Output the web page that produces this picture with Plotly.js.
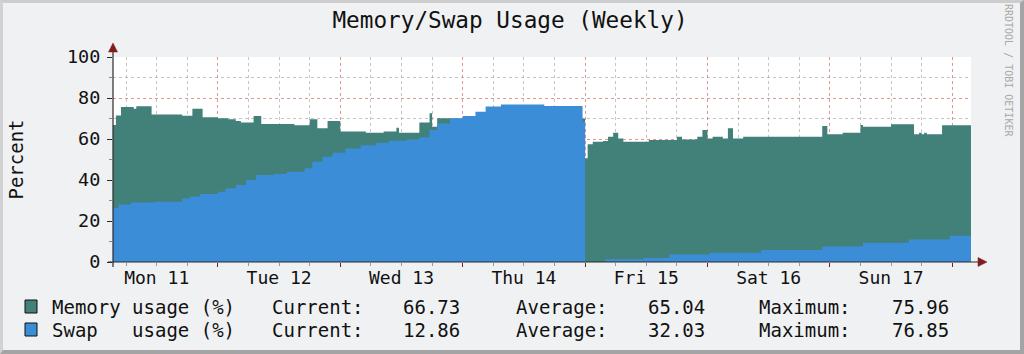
<!DOCTYPE html>
<html>
<head>
<meta charset="utf-8">
<script src="https://cdn.plot.ly/plotly-3.0.1.min.js"></script>
<style>
  html, body { margin: 0; padding: 0; background: #F0F1F3; }
  #wrap { position: relative; width: 1024px; height: 354px; }
  #chart { width: 1024px; height: 354px; }
  #frame { position: absolute; left: 0; top: 0; width: 1024px; height: 354px; box-sizing: border-box;
           border-left: 3px solid #D2D2D2; border-top: 3px solid #CDCDCD;
           border-right: 4px solid #A4A4A4; border-bottom: 4px solid #A4A4A4; pointer-events: none; }
</style>
</head>
<body>
<div id="wrap"><div id="chart"></div><div id="frame"></div></div>
<script>
// ---- data (hours since Mon 11 00:00) ----
const memHours = [3.0, 4.0, 5.0, 7.5, 8.0, 11.0, 17.0, 19.0, 21.0, 24.0, 26.0, 27.5, 28.5, 31.0, 32.5, 39.0, 42.0, 43.5, 45.5, 48.0, 53.0, 56.5, 59.0, 59.5, 63.5, 65.5, 66.0, 67.0, 69.5, 96.0, 96.5, 97.5, 99.5, 100.5, 101.5, 102.5, 103.5, 108.5, 114.0, 115.0, 118.0, 119.0, 120.0, 121.0, 123.0, 124.0, 125.0, 127.0, 142.5, 143.5, 146.5, 150.0, 150.5, 156.0, 160.5, 161.5, 162.0, 162.5, 163.0, 166.0, 172.0];
const memValues = [66.8, 71.5, 75.6, 74.8, 75.96, 72.0, 71.3, 74.7, 70.6, 70.1, 69.6, 68.8, 68.1, 71.2, 67.3, 66.7, 69.6, 65.2, 68.8, 63.7, 63.1, 63.7, 65.5, 63.1, 68.1, 72.5, 66.0, 70.1, 70.0, 50.6, 57.4, 58.7, 59.0, 61.1, 63.1, 60.3, 58.7, 59.5, 61.1, 59.8, 61.1, 64.4, 60.3, 61.1, 60.3, 65.2, 60.3, 61.1, 66.3, 62.3, 63.1, 66.8, 66.0, 67.2, 62.3, 63.1, 62.3, 63.1, 62.3, 66.73, 66.73];
const swapHours = [3.0, 4.5, 7.0, 11.5, 17.0, 18.5, 20.5, 24.0, 25.5, 27.5, 29.5, 31.5, 35.0, 37.5, 41.0, 42.5, 44.5, 46.5, 49.0, 52.0, 55.0, 57.5, 61.0, 63.5, 65.5, 67.0, 69.5, 72.0, 74.5, 76.5, 79.5, 88.0, 95.5, 96.0, 100.0, 107.5, 112.5, 120.5, 130.5, 142.5, 150.5, 159.5, 167.5, 172.0];
const swapValues = [26.3, 28.0, 29.0, 29.4, 31.0, 31.9, 33.2, 34.3, 35.9, 37.6, 40.0, 42.4, 42.9, 44.0, 45.7, 48.9, 51.4, 53.3, 55.4, 57.0, 58.2, 59.2, 59.8, 60.8, 64.4, 67.6, 70.1, 71.2, 73.3, 75.8, 76.85, 76.1, 68.4, 0.0, 1.3, 2.0, 3.7, 4.5, 5.9, 7.5, 9.4, 11.0, 12.86, 12.86];
const seriesNames = ["Memory usage (%)", "Swap\u00A0\u00A0\u00A0usage (%)"];
const statLabels = ["Current:", "Average:", "Maximum:"];
const memStats = ["66.73", "65.04", "75.96"];
const swapStats = ["12.86", "32.03", "76.85"];
const titleText = "Memory/Swap Usage (Weekly)";
const yTitle = "Percent";
const creditText = "RRDTOOL / TOBI OETIKER";
const weekStart = Date.UTC(2013, 2, 11); // Mon 11
const viewHours = [3.43, 171.67];

function toDate(h) {
  return new Date(weekStart + h * 3600e3).toISOString().slice(0, 19).replace('T', ' ');
}

// ---- layout geometry ----
const W = 1024, H = 354;
const M = { l: 113, r: 53, t: 57, b: 92 };
const PW = W - M.l - M.r, PH = H - M.t - M.b;
const px = x => (x - M.l) / PW;
const py = y => (H - M.b - y) / PH;

const FONT = "DejaVu Sans Mono, monospace";
const GREEN = "#42807A", BLUE = "#3A8DD6";
const MGRID = "rgba(215,90,90,0.65)", GRID = "rgba(150,150,150,0.55)";
const AXIS = "#2A2A2A", ARROW = "#7F1E1E";

const traces = [
  { x: memHours.map(toDate), y: memValues, type: "scatter", mode: "lines",
    line: { shape: "hv", width: 0, color: GREEN }, fill: "tozeroy", fillcolor: GREEN,
    name: seriesNames[0], hoverinfo: "x+y" },
  { x: swapHours.map(toDate), y: swapValues, type: "scatter", mode: "lines",
    line: { shape: "hv", width: 0, color: BLUE }, fill: "tozeroy", fillcolor: BLUE,
    name: seriesNames[1], hoverinfo: "x+y" }
];

const shapes = [
  // axis lines
  { type: "line", xref: "paper", yref: "paper", x0: px(108), x1: px(979), y0: py(262), y1: py(262), line: { color: AXIS, width: 1.2 }, layer: "above" },
  { type: "line", xref: "paper", yref: "paper", x0: px(113), x1: px(113), y0: py(267), y1: py(50), line: { color: AXIS, width: 1.2 }, layer: "above" },
  // arrows
  { type: "path", xref: "paper", yref: "paper", layer: "above",
    path: `M ${px(987)},${py(262)} L ${px(978)},${py(257.5)} L ${px(978)},${py(266.5)} Z`,
    fillcolor: ARROW, line: { color: ARROW, width: 0.5 } },
  { type: "path", xref: "paper", yref: "paper", layer: "above",
    path: `M ${px(113)},${py(43)} L ${px(108.5)},${py(52)} L ${px(117.5)},${py(52)} Z`,
    fillcolor: ARROW, line: { color: ARROW, width: 0.5 } },
  // legend colour boxes
  { type: "rect", xref: "paper", yref: "paper", x0: px(25), x1: px(37), y0: py(300), y1: py(313), fillcolor: GREEN, line: { color: "#111", width: 1 } },
  { type: "rect", xref: "paper", yref: "paper", x0: px(25), x1: px(37), y0: py(323), y1: py(336), fillcolor: BLUE, line: { color: "#111", width: 1 } }
];

const legFont = { family: FONT, size: 19, color: "#111" };
const rows = [
  { y: 307, name: seriesNames[0], stats: memStats },
  { y: 330, name: seriesNames[1], stats: swapStats }
];
const labelX = [271, 515, 758];
const numRightX = [461, 706, 950];
const annotations = [];
rows.forEach(r => {
  annotations.push({ xref: "paper", yref: "paper", x: px(51), y: py(r.y), xanchor: "left", yanchor: "middle",
    text: r.name, showarrow: false, font: legFont, borderpad: 0 });
  statLabels.forEach((lab, i) => {
    annotations.push({ xref: "paper", yref: "paper", x: px(labelX[i]), y: py(r.y), xanchor: "left", yanchor: "middle",
      text: lab, showarrow: false, font: legFont, borderpad: 0 });
    annotations.push({ xref: "paper", yref: "paper", x: px(numRightX[i]), y: py(r.y), xanchor: "right", yanchor: "middle",
      text: r.stats[i], showarrow: false, font: legFont, borderpad: 0 });
  });
});
annotations.push({ xref: "paper", yref: "paper", x: px(1008), y: py(71), xanchor: "center", yanchor: "middle",
  text: creditText, textangle: 90, showarrow: false, font: { family: FONT, size: 10, color: "#A9A9A9" } });

const layout = {
  width: W, height: H,
  margin: M,
  paper_bgcolor: "rgba(0,0,0,0)",
  plot_bgcolor: "#FFFFFF",
  showlegend: false,
  title: { text: titleText, font: { family: FONT, size: 22.7, color: "#111" },
           x: 510 / W, xref: "container", xanchor: "center", y: 1 - 20 / H, yref: "container", yanchor: "middle" },
  xaxis: {
    type: "date", range: viewHours.map(toDate), tick0: toDate(0), dtick: 86400000,
    tickformat: "%a %d", ticklabelmode: "period",
    showgrid: true, gridcolor: MGRID, griddash: "dot", gridwidth: 1,
    ticks: "outside", ticklen: 4, tickcolor: ARROW, tickwidth: 1,
    minor: { dtick: 21600000, showgrid: true, gridcolor: GRID, griddash: "dot", gridwidth: 1, ticks: "outside", ticklen: 3, tickcolor: "#999" },
    showline: false, zeroline: false,
    ticklabelstandoff: -5,
    tickfont: { family: FONT, size: 18, color: "#111" }
  },
  yaxis: {
    range: [0, 100], dtick: 20, tick0: 0,
    showgrid: true, gridcolor: MGRID, griddash: "dot", gridwidth: 1,
    ticks: "outside", ticklen: 5, tickcolor: AXIS, tickwidth: 1,
    minor: { dtick: 10, showgrid: true, gridcolor: GRID, griddash: "dot", gridwidth: 1, ticks: "outside", ticklen: 3, tickcolor: "#888" },
    showline: false, zeroline: false,
    ticklabelstandoff: 3,
    tickfont: { family: FONT, size: 18.5, color: "#111" },
    title: { text: yTitle, font: { family: FONT, size: 19, color: "#111" }, standoff: 38 }
  },
  shapes: shapes,
  annotations: annotations
};

Plotly.newPlot("chart", traces, layout, { staticPlot: true, displayModeBar: false });
</script>
</body>
</html>
